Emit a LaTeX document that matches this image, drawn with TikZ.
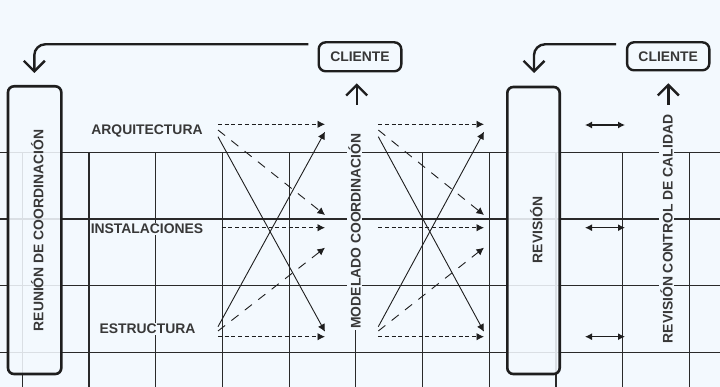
\documentclass[tikz,border=0pt]{standalone}
\usepackage{fontspec}
\setmainfont{Liberation Sans}
\usetikzlibrary{arrows.meta}
\definecolor{bg}{HTML}{F3F9FE}
\definecolor{ink}{HTML}{1E1E1E}
\definecolor{gridc}{HTML}{2A2A2A}
\definecolor{txt}{HTML}{383838}
\tikzset{
  lbl/.style={font=\fontsize{13.9}{16}\selectfont\bfseries, text=txt, inner sep=1pt},
  vlbl/.style={lbl, rotate=90, anchor=base},
  gridline/.style={draw=gridc, line width=1.2pt},
  bigbox/.style={draw=ink, line width=2.6pt, rounded corners=6pt, fill=bg, fill opacity=0.88, inner sep=0pt},
  clientbox/.style={lbl, draw=ink, line width=2.4pt, rounded corners=7pt, inner sep=0pt},
  flow/.style={draw=ink, line width=0.9pt, -{Latex[length=7.5pt,width=7.5pt]}},
  dotflow/.style={flow, dash pattern=on 4pt off 2.7pt},
  dashflow/.style={flow, dash pattern=on 9pt off 8pt},
  feedback/.style={draw=ink, line width=2.4pt, rounded corners=11pt, -{Straight Barb[length=10.5pt,width=21pt]}},
  uparrow/.style={draw=ink, line width=2.4pt, -{Straight Barb[length=10.5pt,width=21pt]}},
  twoway/.style={draw=ink, line width=1.2pt, {Latex[length=7pt,width=7pt]}-{Latex[length=7pt,width=7pt]}},
}
\begin{document}
\begin{tikzpicture}[x=1pt, y=-1pt]
  \fill[bg] (0,0) rectangle (720,387);
  \useasboundingbox (0,0) rectangle (720,387);
  % grid
  \foreach \k in {0,...,3} {
    \draw[gridline] (0,152.3+66.7*\k) -- (720,152.3+66.7*\k);
  }
  \foreach \k in {0,...,10} {
    \draw[gridline] (22.3+66.7*\k,152.3) -- (22.3+66.7*\k,387);
  }
  % big boxes
  \node[bigbox, minimum width=53.3pt, minimum height=287.7pt] (reunion) at (34.65,230.15) {};
  \node[bigbox, minimum width=52.4pt, minimum height=287pt] (revision) at (533.5,230.5) {};
  \node[vlbl] (reuniontxt) at (43.3,230.5) {REUNIÓN DE COORDINACIÓN};
  \node[vlbl] (revisiontxt) at (542.3,230) {REVISIÓN};
  % client boxes
  \node[clientbox, minimum width=82.6pt, minimum height=29pt] (cliente1) at (360,56.8) {CLIENTE};
  \node[clientbox, minimum width=82.3pt, minimum height=28pt] (cliente2) at (668.2,56.3) {CLIENTE};
  % labels
  \node[lbl, anchor=base, fill=bg] (arq) at (147,134.3) {ARQUITECTURA};
  \node[lbl, anchor=base, fill=bg] (inst) at (147,234) {INSTALACIONES};
  \node[lbl, anchor=base, fill=bg] (estr) at (147.5,334) {ESTRUCTURA};
  \node[vlbl, fill=bg] (modelado) at (360.7,231) {MODELADO COORDINACIÓN};
  \node[vlbl, fill=bg] (control) at (672.7,229) {REVISIÓN CONTROL DE CALIDAD};
  % feedback arrows
  \coordinate (fb1s) at (308.3,44.3);
  \coordinate (fb1e) at (34.3,73);
  \coordinate (fb2s) at (616,44.3);
  \coordinate (fb2e) at (534,73);
  \draw[feedback] (fb1s) -| (fb1e);
  \draw[feedback] (fb2s) -| (fb2e);
  % up arrows
  \coordinate (up1s) at (356.7,105);
  \coordinate (up1e) at (356.7,83.3);
  \coordinate (up2s) at (668.3,105);
  \coordinate (up2e) at (668.3,83.3);
  \draw[uparrow] (up1s) -- (up1e);
  \draw[uparrow] (up2s) -- (up2e);
  % two-way arrows
  \foreach \n/\yy in {1/125, 2/227.7, 3/336.7} {
    \coordinate (tw\n a) at (585,\yy);
    \coordinate (tw\n b) at (625,\yy);
    \draw[twoway] (tw\n a) -- (tw\n b);
  }
  % flow groups
  \foreach \g/\xs/\xm/\xe in {L/218/221.7/325, R/378.3/378.3/484} {
    \coordinate (\g a1) at (\xs,124.3);
    \coordinate (\g a2) at (\xs,130);
    \coordinate (\g a3) at (\xs,136.7);
    \coordinate (\g i1) at (\xm,227.7);
    \coordinate (\g e1) at (\xs,326.7);
    \coordinate (\g e2) at (\xs,331);
    \coordinate (\g e3) at (\xs,336.7);
    \coordinate (\g t1) at (\xe,124.3);
    \coordinate (\g t2) at (\xe,131.7);
    \coordinate (\g m1) at (\xe,215);
    \coordinate (\g m2) at (\xe,227.7);
    \coordinate (\g m3) at (\xe,247.7);
    \coordinate (\g b1) at (\xe,331.7);
    \coordinate (\g b2) at (\xe,336.7);
    \draw[dotflow] (\g a1) -- (\g t1);
    \draw[dashflow] (\g a2) -- (\g m1);
    \draw[flow] (\g a3) -- (\g b1);
    \draw[dotflow] (\g i1) -- (\g m2);
    \draw[flow] (\g e1) -- (\g t2);
    \draw[dashflow] (\g e2) -- (\g m3);
    \draw[dotflow] (\g e3) -- (\g b2);
  }
\end{tikzpicture}
\end{document}
